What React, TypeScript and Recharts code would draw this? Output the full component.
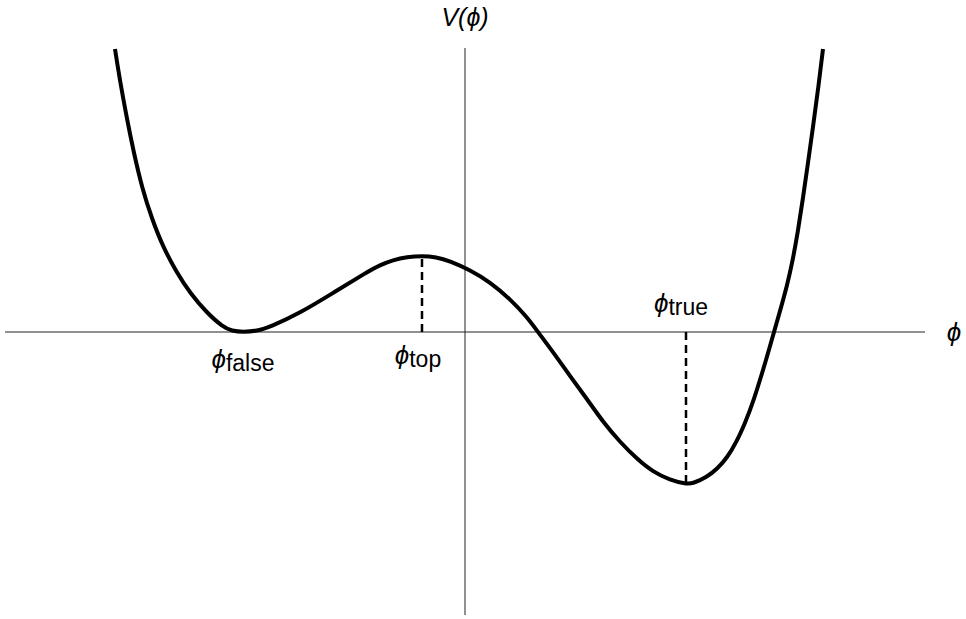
import { LineChart, Line, XAxis, YAxis, ReferenceLine, ReferenceDot } from 'recharts'

// curve (phi, V)
const phiValues = [
  -3.5, -3.45, -3.38, -3.32, -3.23, -3.13, -3.02, -2.88, -2.75, -2.58, -2.42, -2.33, -2.22, -2.08,
  -1.95, -1.65, -1.32, -0.98, -0.85, -0.72, -0.58, -0.43, -0.29, -0.15,
  0.05, 0.25, 0.45, 0.62, 0.73, 0.88, 1.05, 1.22, 1.38, 1.55, 1.72, 1.88, 2.05, 2.21,
  2.28, 2.42, 2.52, 2.62, 2.72, 2.8, 2.88, 3.02, 3.09, 3.15, 3.22, 3.28, 3.33, 3.38, 3.43, 3.48, 3.53, 3.58,
]
const potentialValues = [
  2.83, 2.51, 2.13, 1.83, 1.44, 1.13, 0.85, 0.59, 0.39, 0.19, 0.05, 0.01, 0, 0.01,
  0.05, 0.19, 0.39, 0.6, 0.67, 0.72, 0.75, 0.76, 0.75, 0.71,
  0.62, 0.5, 0.33, 0.15, 0, -0.2, -0.44, -0.67, -0.9, -1.1, -1.27, -1.4, -1.48, -1.52,
  -1.515, -1.45, -1.37, -1.26, -1.09, -0.91, -0.71, -0.25, 0, 0.21, 0.46, 0.73, 1.01, 1.34, 1.69, 2.05, 2.42, 2.83,
]

const phiFalse = -2.22
const phiTop = -0.43
const vTop = 0.76
const phiTrue = 2.21
const vTrue = -1.52

const xDomain = [-4.6, 4.6]
const yDomain = [-2.83, 2.84]

const data = phiValues.map((phi, i) => ({ phi, v: potentialValues[i] }))

const FONT = '"Liberation Sans", Arial, Helvetica, sans-serif'

const phiLabel = (sub: string, dx: number, dy: number) => (props: any) => {
  const vb = props.viewBox
  const cx = vb.x + vb.width / 2
  const cy = vb.y + vb.height / 2
  return (
    <text x={cx + dx} y={cy + dy} textAnchor="middle" fontFamily={FONT} fill="#000">
      <tspan fontSize={26} fontStyle="italic">ϕ</tspan>
      {sub ? <tspan fontSize={23} dy={3}>{sub}</tspan> : null}
    </text>
  )
}

const vLabel = (props: any) => {
  const vb = props.viewBox
  const cx = vb.x + vb.width / 2
  const cy = vb.y + vb.height / 2
  return (
    <text x={cx} y={cy - 22} textAnchor="middle" fontFamily={FONT} fontSize={25} fontStyle="italic" fill="#000">
      V(ϕ)
    </text>
  )
}

export default function App() {
  return (
    <div style={{ position: 'absolute', left: 0, top: 0, background: '#fff' }}>
      <LineChart width={966} height={619} data={data} margin={{ top: 48, right: 41, bottom: 4, left: 5 }}>
        <XAxis type="number" dataKey="phi" domain={xDomain} hide />
        <YAxis type="number" domain={yDomain} hide />
        <ReferenceLine y={0} stroke="#222" strokeWidth={1} />
        <ReferenceLine x={0} stroke="#222" strokeWidth={1} />
        <ReferenceLine segment={[{ x: phiTop, y: 0 }, { x: phiTop, y: vTop }]} stroke="#000" strokeWidth={2.5} strokeDasharray="8 5" />
        <ReferenceLine segment={[{ x: phiTrue, y: 0 }, { x: phiTrue, y: vTrue }]} stroke="#000" strokeWidth={2.5} strokeDasharray="8 5" />
        <Line type="basis" dataKey="v" stroke="#000" strokeWidth={4} dot={false} isAnimationActive={false} />
        <ReferenceDot x={phiFalse} y={0} r={1} fill="none" stroke="none" label={phiLabel('false', 0, 36)} />
        <ReferenceDot x={phiTop} y={0} r={1} fill="none" stroke="none" label={phiLabel('top', -4, 32)} />
        <ReferenceDot x={phiTrue} y={0} r={1} fill="none" stroke="none" label={phiLabel('true', -5, -20)} />
        <ReferenceDot x={xDomain[1]} y={0} r={1} fill="none" stroke="none" label={phiLabel('', 29, 9)} />
        <ReferenceDot x={0} y={yDomain[1]} r={1} fill="none" stroke="none" label={vLabel} />
      </LineChart>
    </div>
  )
}
